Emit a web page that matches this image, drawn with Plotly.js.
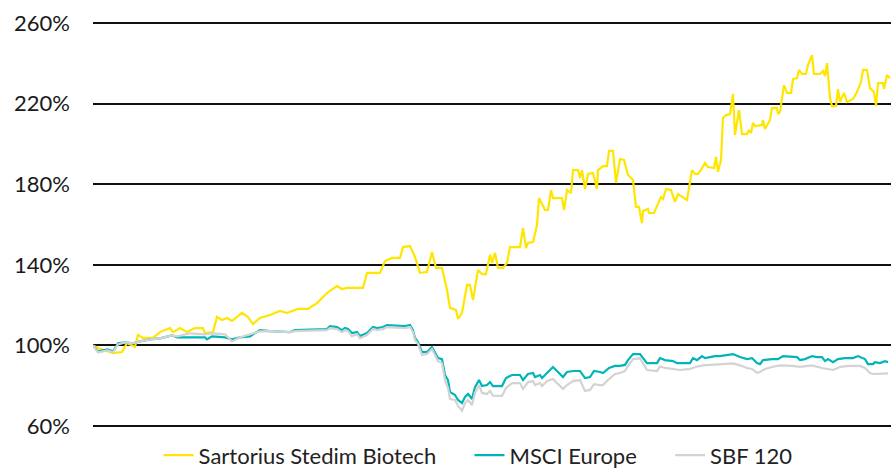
<!DOCTYPE html>
<html>
<head>
<meta charset="utf-8">
<script src="https://cdn.plot.ly/plotly-3.0.1.min.js"></script>
<style>
  html, body { margin: 0; padding: 0; background: #ffffff; }
  #chart { width: 891px; height: 468px; }
</style>
</head>
<body>
<div id="chart"></div>
<script>
// Trading-day index (relative) and performance (%) base 100
const sartoriusDays = [0,5,20,29,34,42,45,50,60,67,77,80,87,94,102,110,112,120,124,129,134,139,149,155,160,167,177,187,194,205,215,224,234,244,249,254,270,274,287,292,299,307,310,317,322,327,334,339,343,349,354,357,363,365,369,374,377,380,385,389,393,397,399,402,405,410,414,417,427,430,433,435,440,444,446,452,455,458,460,469,471,474,478,480,485,487,489,492,495,500,504,505,510,514,516,520,523,527,531,535,540,543,546,549,550,555,556,561,568,570,573,578,582,585,594,599,602,605,609,612,615,621,623,625,628,630,633,637,640,642,646,649,654,656,658,660,662,669,670,672,677,679,684,685,687,691,694,698,700,704,706,709,713,715,719,721,727,730,732,734,737,739,743,745,747,751,754,760,764,768,770,774,777,781,783,785,790,791,794,797];
const sartoriusValues = [100,98.7,96.2,96.7,101.2,99.2,105.2,103.7,103.7,106.6,108.6,106.6,108.6,106.6,108.6,108.6,106.1,106.6,114.1,112.6,113.6,112.1,116.1,114.1,110.6,113.6,115.1,117.1,116.1,118.1,118.1,121.0,126.0,129.5,128.0,128.5,128.5,136.0,136.0,141.9,143.4,143.4,148.8,149.3,143.9,136.0,136.4,146.3,138.4,138.4,127.5,118.6,117.6,113.1,116.1,130.0,130.0,122.5,137.4,135.4,135.4,145.0,140.9,145.9,138.4,138.4,140.9,148.8,148.8,158.3,148.3,150.8,151.3,159.7,173.1,167.2,167.2,177.1,173.1,173.1,167.2,177.1,175.6,187.0,187.0,183.1,187.0,177.6,185.1,185.6,177.6,187.0,189.0,189.0,196.5,196.5,180.6,192.5,192.0,184.6,182.1,168.7,168.7,160.7,166.7,167.7,165.7,165.7,173.6,172.7,177.6,177.1,171.2,175.1,172.2,187.0,185.1,185.1,188.0,190.5,188.5,188.0,193.5,186.1,192.0,212.9,214.3,214.8,224.8,204.4,216.8,204.9,204.9,206.9,205.4,210.4,208.9,209.4,211.9,207.4,211.9,217.8,217.8,214.8,215.8,229.2,225.3,225.3,232.2,232.7,236.7,234.7,234.7,239.2,244.1,234.7,234.7,236.2,233.7,240.1,222.8,218.8,218.8,227.2,220.8,225.3,220.8,222.3,225.8,230.7,236.7,236.7,227.7,225.8,218.8,230.2,230.2,227.2,234.2,232.7];

const msciDays = [0,5,15,20,25,32,40,47,57,67,79,84,112,114,119,132,139,147,157,167,177,197,202,234,237,244,249,252,255,259,264,267,274,280,284,290,294,312,317,320,322,325,329,334,339,342,345,349,352,355,357,362,365,369,372,375,379,382,386,389,394,397,400,409,413,419,427,430,435,440,442,447,449,454,460,465,470,474,480,487,492,497,501,507,510,516,522,527,532,535,540,547,550,554,564,567,572,580,584,597,600,604,609,612,617,622,627,640,647,654,659,664,667,670,679,685,690,699,704,707,712,719,724,729,732,735,740,745,752,760,765,772,775,780,782,787,792,795];
const msciValues = [100,97.0,98.0,97.0,101.0,101.5,101.0,102.0,103.0,103.5,105.0,104.0,104.0,103.0,104.5,104.0,103.0,104.0,104.5,107.6,107.1,106.6,107.6,108.1,109.6,109.1,107.6,108.6,108.1,106.1,106.6,104.6,106.1,109.1,108.6,109.1,110.1,109.6,110.1,107.6,103.7,101.7,96.7,96.7,99.2,96.7,93.7,93.2,85.3,82.8,76.9,75.4,72.9,71.4,74.4,75.9,73.4,79.3,82.8,79.8,80.3,81.8,79.8,79.8,83.8,85.3,85.3,82.8,85.8,86.3,84.3,85.3,83.8,86.3,89.3,86.8,84.3,86.8,87.3,87.3,83.8,84.3,87.3,86.8,86.3,88.8,89.8,89.8,90.3,92.7,95.7,95.7,93.7,91.2,91.2,93.7,92.7,92.2,91.2,91.2,93.7,92.7,94.7,93.7,94.2,94.7,94.7,95.7,94.2,93.2,93.7,91.2,90.7,92.7,93.2,93.2,94.7,94.2,94.2,92.7,93.2,94.7,94.2,94.2,92.2,93.2,91.7,93.2,93.7,93.7,94.7,93.2,90.7,90.7,91.7,91.2,92.2,91.7];

const sbfDays = [0,5,15,20,25,32,40,47,57,67,79,84,97,112,119,132,139,147,157,167,177,197,202,234,237,244,249,252,255,259,264,267,274,280,284,290,294,312,317,320,322,325,329,334,339,342,345,349,352,355,357,362,365,369,372,375,379,382,386,389,394,397,400,409,413,419,427,430,435,440,442,447,449,454,460,465,470,474,480,487,492,497,501,507,510,516,522,527,532,535,540,547,550,554,564,567,572,580,587,597,604,610,625,640,647,654,659,664,667,672,679,687,699,707,719,729,740,747,757,767,772,777,780,787,795];
const sbfValues = [100,96.5,97.5,96.5,100.5,101.5,101.0,102.0,103.0,103.5,105.0,104.5,106.0,105.5,106.0,105.5,102.0,104.0,105.5,107.0,107.1,106.6,107.1,107.6,108.6,108.1,106.6,107.6,107.1,104.6,105.6,103.6,105.1,108.1,107.6,108.1,109.1,108.6,109.1,106.6,102.7,100.7,95.2,95.7,98.2,95.2,92.2,91.2,82.8,78.9,73.4,72.9,70.0,67.6,71.4,72.9,70.4,76.4,80.3,76.4,75.9,77.4,75.0,74.9,78.9,81.3,81.3,78.4,81.8,82.3,80.3,81.3,79.8,82.3,83.3,80.8,78.4,80.3,82.3,82.8,77.4,77.9,80.8,80.3,80.3,83.3,85.8,86.3,87.3,89.8,93.2,93.6,91.2,87.8,87.3,89.5,88.8,88.3,87.8,88.3,89.5,90.1,90.6,91.1,90.1,88.8,88.3,86.4,86.8,88.3,89.3,90.1,89.8,89.3,90.1,88.8,87.8,89.3,89.8,89.8,88.8,86.3,85.8,86.1,86.1];

const seriesNames = ["Sartorius Stedim Biotech", "MSCI Europe", "SBF 120"];
const seriesColors = ["#FFE600", "#00B5B8", "#D3D3D3"];
const tickValues = [60, 100, 140, 180, 220, 260];
const tickLabels = ["60%", "100%", "140%", "180%", "220%", "260%"];

const FONT = "Lato, 'Open Sans', sans-serif";
const PAD = "\u00a0\u00a0\u00a0\u00a0\u00a0";

const traces = [
  {x: sartoriusDays, y: sartoriusValues},
  {x: msciDays, y: msciValues},
  {x: sbfDays, y: sbfValues}
].map((d, i) => ({
  x: d.x, y: d.y, type: "scatter", mode: "lines",
  name: seriesNames[i] + (i < seriesNames.length - 1 ? PAD : ""),
  line: {color: seriesColors[i], width: 2.2},
  hoverinfo: "skip"
}));

const layout = {
  width: 891, height: 468,
  margin: {l: 93, r: 0, t: 21, b: 40, pad: 0, autoexpand: false},
  paper_bgcolor: "#ffffff", plot_bgcolor: "#ffffff",
  showlegend: true,
  legend: {
    orientation: "h", x: 0.178, xref: "container", xanchor: "left",
    y: 0.027, yref: "container", yanchor: "middle",
    font: {family: FONT, size: 22, color: "#222222"},
    itemwidth: 30, tracegroupgap: 0, bgcolor: "rgba(0,0,0,0)"
  },
  xaxis: {
    range: [0, 798], showgrid: false, zeroline: false, showline: false,
    showticklabels: false, ticks: "", fixedrange: true
  },
  yaxis: {
    range: [59, 261], tickmode: "array", tickvals: tickValues, ticktext: tickLabels,
    showgrid: true, gridcolor: "#111111", gridwidth: 2,
    zeroline: false, showline: false, ticks: "",
    ticklabelstandoff: 22,
    tickfont: {family: FONT, size: 22, color: "#1a1a1a"},
    fixedrange: true
  }
};

Plotly.newPlot("chart", traces, layout, {displayModeBar: false, staticPlot: true});
</script>
</body>
</html>
